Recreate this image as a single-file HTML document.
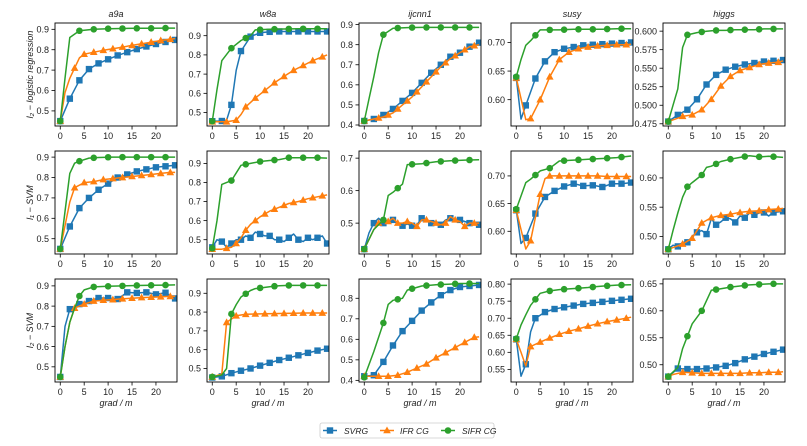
<!DOCTYPE html>
<html><head><meta charset="utf-8"><style>
body{margin:0;background:#fff;}
svg{display:block;font-family:"Liberation Sans","DejaVu Sans",sans-serif;}
</style></head><body>
<svg id="fig" width="807" height="446" viewBox="0 0 807 446" xmlns="http://www.w3.org/2000/svg"></svg>
<script>
const datasets = ["a9a","w8a","ijcnn1","susy","higgs"];
const rowLabels = ["l\u2082 \u2212 logistic regression","l\u2081 \u2212 SVM","l\u2082 \u2212 SVM"];
const seriesNames = ["SVRG","IFR CG","SIFR CG"];
const xTicks = [0,5,10,15,20];
const xLim = [-1.1, 24.4];
const yLims = [
 [[0.426,0.931],[0.43,0.966],[0.395,0.908],[0.554,0.734],[0.472,0.611]],
 [[0.425,0.93],[0.425,0.965],[0.405,0.722],[0.559,0.745],[0.470,0.646]],
 [[0.425,0.934],[0.428,0.976],[0.392,0.894],[0.513,0.815],[0.468,0.659]]
];
const yTicks = [
 [[0.5,0.6,0.7,0.8,0.9],[0.5,0.6,0.7,0.8,0.9],[0.4,0.5,0.6,0.7,0.8,0.9],[0.60,0.65,0.70],[0.475,0.5,0.525,0.55,0.575,0.6]],
 [[0.5,0.6,0.7,0.8,0.9],[0.5,0.6,0.7,0.8,0.9],[0.5,0.6,0.7],[0.60,0.65,0.70],[0.50,0.55,0.60]],
 [[0.5,0.6,0.7,0.8,0.9],[0.5,0.6,0.7,0.8,0.9],[0.4,0.5,0.6,0.7,0.8],[0.55,0.6,0.65,0.7,0.75,0.8],[0.50,0.55,0.60,0.65]]
];
const yTickFmt = [[1,1,1,2,3],[1,1,1,2,2],[1,1,1,2,2]];
// marker x-positions per series (SVRG, IFR CG, SIFR CG)
const markX_svrg=[0,2,4,6,8,10,12,14,16,18,20,22,24];
const markX_ifr=[0,3,5,7,9,11,13,15,17,19,21,23];
const markX_sifr=[0,4,7,10,13,16,19,22];
// series data: [x, y] pairs — row1 (l2 logistic regression)
const r1_a9a_svrg=[[0,.45],[2,.56],[4,.65],[6,.705],[8,.733],[10,.753],[12,.772],[14,.788],[16,.803],[18,.816],[20,.828],[22,.838],[24,.848]];
const r1_a9a_ifr=[[0,.45],[1,.59],[2,.66],[3,.71],[4,.76],[5,.778],[7,.788],[9,.797],[11,.805],[13,.813],[15,.821],[17,.829],[19,.837],[21,.845],[23,.851],[24,.855]];
const r1_a9a_sifr=[[0,.45],[1,.66],[2,.86],[4,.893],[7,.9],[10,.903],[13,.904],[16,.905],[19,.905],[22,.906],[24,.906]];
const r1_w8a_svrg=[[0,.455],[2,.456],[3,.46],[4,.54],[5,.72],[6,.82],[8,.895],[10,.915],[12,.92],[14,.922],[16,.922],[18,.922],[20,.922],[22,.922],[24,.922]];
const r1_w8a_ifr=[[0,.452],[3,.452],[5,.46],[6,.49],[7,.53],[9,.575],[11,.615],[13,.655],[15,.688],[17,.72],[19,.745],[21,.77],[23,.79],[24,.80]];
const r1_w8a_sifr=[[0,.455],[1,.62],[2,.77],[4,.835],[6,.875],[8,.9],[9,.93],[12,.933],[15,.935],[18,.936],[21,.936],[24,.936]];
const r1_ijc_svrg=[[0,.42],[2,.43],[4,.45],[6,.48],[8,.52],[10,.56],[12,.61],[14,.66],[16,.70],[18,.74],[20,.76],[22,.79],[24,.81]];
const r1_ijc_ifr=[[0,.42],[2,.43],[4,.44],[6,.46],[8,.50],[10,.54],[12,.59],[14,.64],[16,.69],[18,.73],[20,.76],[22,.79],[24,.80]];
const r1_ijc_sifr=[[0,.42],[1,.53],[2,.64],[3,.76],[4,.85],[6,.882],[9,.885],[12,.886],[15,.886],[18,.886],[21,.886],[24,.886]];
const r1_susy_svrg=[[0,.638],[1,.566],[2,.59],[4,.637],[6,.667],[8,.683],[10,.689],[12,.692],[14,.695],[16,.696],[18,.697],[20,.698],[22,.699],[24,.70]];
const r1_susy_ifr=[[0,.638],[2,.565],[3,.567],[5,.6],[7,.64],[9,.67],[11,.683],[13,.689],[15,.692],[17,.694],[19,.695],[21,.696],[23,.696],[24,.697]];
const r1_susy_sifr=[[0,.64],[1,.67],[2,.695],[3,.703],[5,.722],[7,.722],[9,.722],[12,.723],[15,.723],[18,.723],[21,.724],[24,.724]];
const r1_higgs_svrg=[[0,.478],[2,.487],[4,.494],[6,.508],[8,.528],[10,.541],[12,.548],[14,.552],[16,.555],[18,.557],[20,.559],[22,.56],[24,.561]];
const r1_higgs_ifr=[[0,.478],[3,.485],[5,.487],[7,.494],[9,.508],[11,.526],[13,.539],[15,.547],[17,.551],[19,.555],[21,.557],[23,.558],[24,.56]];
const r1_higgs_sifr=[[0,.478],[1,.50],[2,.522],[3,.578],[4,.595],[6,.598],[8,.6],[10,.601],[12,.601],[14,.602],[16,.602],[18,.602],[20,.603],[22,.603],[24,.603]];
// row2 (l1 SVM)
const r2_a9a_svrg=[[0,.45],[2,.56],[4,.65],[6,.70],[8,.74],[10,.77],[12,.80],[14,.815],[16,.83],[18,.84],[20,.85],[22,.855],[24,.86]];
const r2_a9a_ifr=[[0,.45],[2,.68],[3,.75],[5,.775],[7,.78],[9,.79],[11,.795],[13,.80],[15,.805],[17,.81],[19,.815],[21,.82],[23,.825],[24,.825]];
const r2_a9a_sifr=[[0,.45],[2,.82],[3,.87],[4,.88],[6,.895],[8,.898],[11,.9],[14,.9],[17,.9],[20,.9],[24,.9]];
const r2_w8a_svrg=[[0,.46],[1,.50],[2,.49],[3,.46],[4,.48],[5,.50],[6,.50],[7,.52],[8,.51],[9,.54],[10,.53],[11,.52],[12,.52],[13,.50],[14,.50],[15,.49],[16,.51],[17,.53],[18,.50],[19,.49],[20,.51],[21,.50],[22,.51],[23,.52],[24,.48]];
const r2_w8a_ifr=[[0,.45],[2,.45],[4,.46],[5,.48],[6,.51],[7,.55],[8,.58],[10,.62],[12,.65],[14,.67],[16,.69],[18,.70],[20,.715],[22,.725],[24,.735]];
const r2_w8a_sifr=[[0,.455],[1,.6],[2,.79],[4,.81],[6,.89],[8,.9],[10,.91],[12,.915],[14,.92],[16,.93],[18,.93],[20,.93],[22,.93],[24,.928]];
const r2_ijc_svrg=[[0,.42],[1,.47],[2,.50],[3,.515],[4,.50],[5,.505],[6,.51],[7,.50],[8,.492],[9,.497],[10,.492],[11,.495],[12,.515],[13,.51],[14,.50],[15,.505],[16,.495],[17,.51],[18,.515],[19,.51],[20,.51],[21,.505],[22,.50],[23,.50],[24,.495]];
const r2_ijc_ifr=[[0,.42],[1,.45],[2,.48],[3,.50],[4,.505],[5,.505],[6,.515],[7,.50],[8,.50],[9,.505],[10,.50],[11,.49],[12,.51],[13,.51],[14,.505],[15,.50],[16,.495],[17,.50],[18,.52],[19,.51],[20,.505],[21,.49],[22,.50],[23,.50],[24,.50]];
const r2_ijc_sifr=[[0,.42],[2,.48],[4,.51],[5,.585],[6,.595],[8,.62],[9,.68],[12,.683],[15,.689],[18,.692],[21,.694],[24,.695]];
const r2_susy_svrg=[[0,.638],[1,.578],[2,.588],[4,.632],[6,.662],[8,.673],[10,.681],[12,.686],[14,.682],[16,.683],[18,.68],[20,.686],[22,.686],[24,.688]];
const r2_susy_ifr=[[0,.638],[2,.568],[3,.583],[5,.667],[6,.695],[7,.70],[9,.70],[11,.70],[13,.70],[15,.70],[17,.70],[19,.699],[21,.699],[23,.699],[24,.699]];
const r2_susy_sifr=[[0,.64],[2,.688],[3,.694],[5,.709],[7,.714],[9,.727],[11,.728],[13,.729],[15,.73],[17,.731],[19,.732],[21,.733],[24,.736]];
const r2_higgs_svrg=[[0,.478],[1,.485],[2,.483],[3,.49],[4,.49],[5,.50],[6,.507],[7,.51],[8,.504],[9,.53],[10,.52],[11,.525],[12,.532],[13,.53],[14,.524],[15,.535],[16,.532],[17,.54],[18,.537],[19,.54],[20,.541],[21,.535],[22,.541],[23,.542],[24,.543]];
const r2_higgs_ifr=[[0,.478],[3,.487],[5,.497],[7,.523],[9,.532],[11,.536],[13,.538],[15,.541],[17,.543],[19,.544],[21,.546],[23,.547],[24,.548]];
const r2_higgs_sifr=[[0,.478],[1,.51],[2,.54],[3,.567],[4,.585],[5,.592],[7,.605],[8,.618],[9,.62],[11,.628],[13,.632],[15,.635],[17,.638],[19,.636],[21,.637],[24,.635]];
// row3 (l2 SVM)
const r3_a9a_svrg=[[0,.45],[1,.70],[2,.785],[4,.81],[6,.825],[8,.84],[10,.84],[12,.835],[14,.868],[16,.865],[18,.868],[20,.858],[22,.866],[24,.838]];
const r3_a9a_ifr=[[0,.45],[1,.6],[2,.72],[3,.79],[5,.81],[7,.825],[9,.829],[11,.832],[13,.836],[15,.839],[17,.842],[19,.844],[21,.846],[23,.848],[24,.848]];
const r3_a9a_sifr=[[0,.45],[1,.6],[2,.72],[3,.79],[4,.85],[5,.88],[7,.895],[10,.898],[13,.9],[16,.902],[19,.903],[22,.904],[24,.905]];
const r3_w8a_svrg=[[0,.452],[2,.458],[4,.475],[6,.488],[8,.50],[10,.515],[12,.53],[14,.545],[16,.557],[18,.57],[20,.583],[22,.595],[24,.605]];
const r3_w8a_ifr=[[0,.455],[2,.47],[3,.745],[5,.78],[7,.788],[9,.79],[11,.791],[13,.792],[15,.793],[17,.794],[19,.795],[21,.795],[23,.795],[24,.795]];
const r3_w8a_sifr=[[0,.455],[2,.465],[3,.5],[4,.79],[5,.84],[6,.88],[8,.915],[9,.925],[12,.935],[14,.94],[16,.942],[18,.942],[20,.942],[22,.942],[24,.942]];
const r3_ijc_svrg=[[0,.42],[2,.425],[4,.49],[6,.57],[8,.64],[10,.69],[12,.74],[14,.78],[16,.815],[18,.84],[20,.855],[22,.86],[24,.865]];
const r3_ijc_ifr=[[0,.42],[3,.42],[5,.42],[7,.425],[9,.44],[11,.46],[13,.48],[15,.51],[17,.535],[19,.56],[21,.585],[23,.61],[24,.612]];
const r3_ijc_sifr=[[0,.415],[2,.54],[4,.68],[5,.77],[6,.79],[8,.80],[9,.84],[12,.86],[15,.866],[18,.869],[20,.872],[23,.872],[24,.872]];
const r3_susy_svrg=[[0,.638],[1,.53],[2,.565],[3,.66],[4,.70],[6,.718],[8,.727],[10,.732],[12,.737],[14,.742],[16,.745],[18,.748],[20,.751],[22,.754],[24,.757]];
const r3_susy_ifr=[[0,.638],[1,.6],[2,.56],[3,.617],[5,.63],[7,.642],[9,.653],[11,.662],[13,.669],[15,.677],[17,.684],[19,.69],[21,.695],[23,.70],[24,.703]];
const r3_susy_sifr=[[0,.64],[1,.68],[2,.71],[3,.738],[5,.773],[7,.78],[9,.784],[11,.786],[13,.788],[15,.790],[17,.793],[19,.795],[21,.797],[24,.798]];
const r3_higgs_svrg=[[0,.478],[2,.493],[4,.492],[6,.492],[8,.493],[10,.495],[12,.498],[14,.503],[16,.51],[18,.515],[20,.52],[22,.524],[24,.528]];
const r3_higgs_ifr=[[0,.478],[1,.482],[3,.486],[5,.485],[7,.484],[9,.484],[11,.484],[13,.484],[15,.484],[17,.485],[19,.485],[21,.486],[23,.486],[24,.487]];
const r3_higgs_sifr=[[0,.478],[2,.495],[3,.53],[5,.576],[7,.60],[9,.638],[11,.641],[13,.644],[15,.646],[17,.648],[19,.649],[21,.65],[24,.65]];

const grid = [
 [[r1_a9a_svrg,r1_a9a_ifr,r1_a9a_sifr],[r1_w8a_svrg,r1_w8a_ifr,r1_w8a_sifr],[r1_ijc_svrg,r1_ijc_ifr,r1_ijc_sifr],[r1_susy_svrg,r1_susy_ifr,r1_susy_sifr],[r1_higgs_svrg,r1_higgs_ifr,r1_higgs_sifr]],
 [[r2_a9a_svrg,r2_a9a_ifr,r2_a9a_sifr],[r2_w8a_svrg,r2_w8a_ifr,r2_w8a_sifr],[r2_ijc_svrg,r2_ijc_ifr,r2_ijc_sifr],[r2_susy_svrg,r2_susy_ifr,r2_susy_sifr],[r2_higgs_svrg,r2_higgs_ifr,r2_higgs_sifr]],
 [[r3_a9a_svrg,r3_a9a_ifr,r3_a9a_sifr],[r3_w8a_svrg,r3_w8a_ifr,r3_w8a_sifr],[r3_ijc_svrg,r3_ijc_ifr,r3_ijc_sifr],[r3_susy_svrg,r3_susy_ifr,r3_susy_sifr],[r3_higgs_svrg,r3_higgs_ifr,r3_higgs_sifr]]
];
const markXs=[markX_svrg,markX_ifr,markX_sifr];

const colors=["#1f77b4","#ff7f0e","#2ca02c"];
const NS="http://www.w3.org/2000/svg";
const svg=document.getElementById('fig');
function mk(tag,attrs,parent){const e=document.createElementNS(NS,tag);for(const k in attrs)e.setAttribute(k,attrs[k]);(parent||svg).appendChild(e);return e;}
function interp(pts,x){
  for(let i=0;i<pts.length-1;i++){const a=pts[i],b=pts[i+1];if(x>=a[0]&&x<=b[0]){const t=(x-a[0])/(b[0]-a[0]);return a[1]+t*(b[1]-a[1]);}}
  return pts[pts.length-1][1];
}
function marker(g,k,x,y){
  let m;
  if(k===0){m=mk('rect',{x:x-3.2,y:y-3.2,width:6.4,height:6.4,fill:colors[0]},g);}
  else if(k===1){m=mk('polygon',{points:`${x},${y-4} ${x-3.8},${y+2.8} ${x+3.8},${y+2.8}`,fill:colors[1]},g);}
  else {m=mk('circle',{cx:x,cy:y,r:3.3,fill:colors[2]},g);}
  
  
}
const lefts=[55,207,359,511,663], W=122, tops=[23,151,279], H=103;
for(let r=0;r<3;r++){for(let c=0;c<5;c++){
  const L=lefts[c],T=tops[r];
  const yl=yLims[r][c];
  const sx=v=>L+(v-xLim[0])/(xLim[1]-xLim[0])*W;
  const sy=v=>T+H-(v-yl[0])/(yl[1]-yl[0])*H;
  const g=mk('g',{});
  
  
  const clipId='cl'+r+c;
  const cp=mk('clipPath',{id:clipId},g);mk('rect',{x:L-4,y:T-4,width:W+4,height:H+8},cp);
  const pg=mk('g',{'clip-path':`url(#${clipId})`},g);
  grid[r][c].forEach((pts,k)=>{
    const line=mk('polyline',{points:pts.map(p=>sx(p[0]).toFixed(1)+','+sy(p[1]).toFixed(1)).join(' '),fill:'none',stroke:colors[k],'stroke-width':1.5,'stroke-linejoin':'round'},pg);
    
    
    markXs[k].forEach(x=>marker(pg,k,sx(x),sy(interp(pts,x))));
  });
  const fr=mk('rect',{x:L,y:T,width:W,height:H,fill:'none',stroke:'#000','stroke-width':0.9},g);
  
  
  xTicks.forEach(t=>{const x=sx(t);mk('line',{x1:x,y1:T+H,x2:x,y2:T+H+3.5,stroke:'#000','stroke-width':0.8},g);
    const tx=mk('text',{x:x,y:T+H+13,'font-size':9,'text-anchor':'middle',fill:'#222'},g);tx.textContent=t;
    
    });
  yTicks[r][c].forEach(t=>{const y=sy(t);mk('line',{x1:L-3.5,y1:y,x2:L,y2:y,stroke:'#000','stroke-width':0.8},g);
    const tx=mk('text',{x:L-6,y:y+3.2,'font-size':9,'text-anchor':'end',fill:'#222'},g);tx.textContent=t.toFixed(yTickFmt[r][c]);
    
    });
  if(r===0){const tt=mk('text',{x:L+W/2,y:T-6,'font-size':9,'font-style':'italic','text-anchor':'middle',fill:'#222'},g);tt.textContent=datasets[c];
    
    }
  if(r===2){const xl=mk('text',{x:L+W/2,y:T+H+24,'font-size':9,'font-style':'italic','text-anchor':'middle',fill:'#222'},g);xl.textContent='grad / m';
    
    }
  if(c===0){const yx=33,yy=T+H/2;const yt=mk('text',{x:yx,y:yy,'font-size':9,'font-style':'italic','text-anchor':'middle',fill:'#222',transform:`rotate(-90 ${yx} ${yy})`},g);yt.textContent=rowLabels[r];
    
    }
}}
// legend
const lg=mk('g',{});


mk('rect',{x:320,y:423,width:174,height:15,rx:2,fill:'#fff',stroke:'#ccc','stroke-width':0.8},lg);
const lx=[323,380,441], tx=[344,400,462];
seriesNames.forEach((n,k)=>{
  const e=mk('g',{},lg);
  
  
  mk('line',{x1:lx[k],y1:430.5,x2:lx[k]+14,y2:430.5,stroke:colors[k],'stroke-width':1.5},e);
  marker(e,k,lx[k]+7,430.5);
  const t=mk('text',{x:tx[k],y:434,'font-size':8.5,'font-style':'italic',fill:'#222'},e);t.textContent=n;
});
</script>
</body></html>
